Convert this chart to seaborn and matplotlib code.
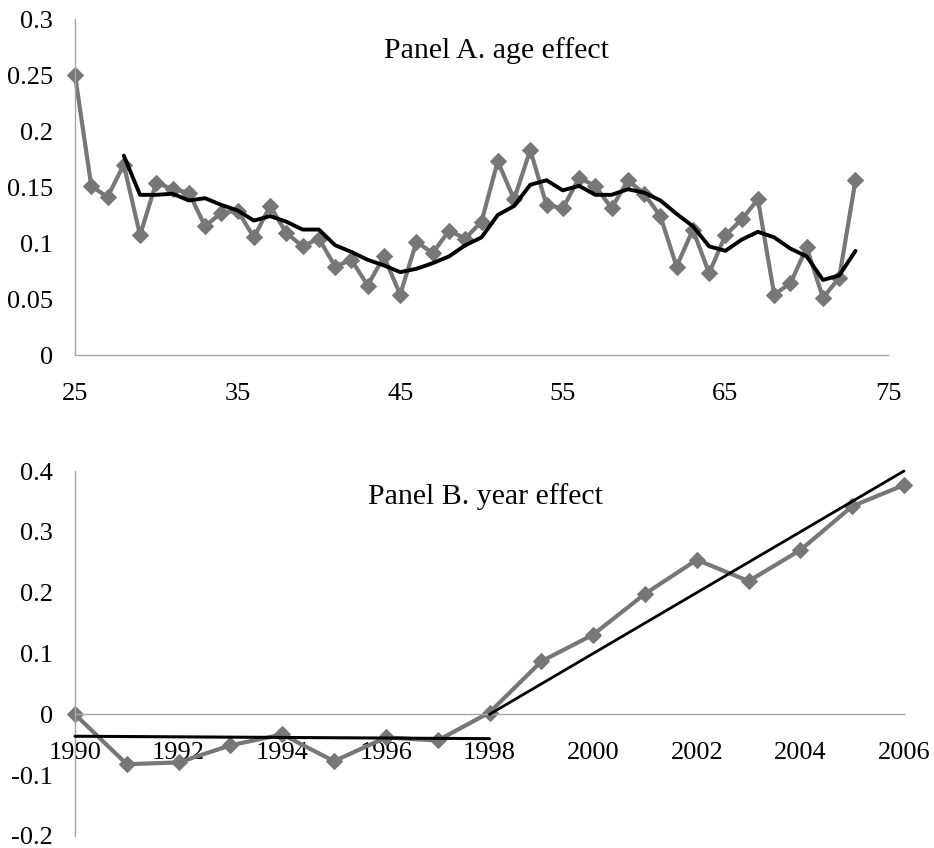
import numpy as np
import pandas as pd
import matplotlib
matplotlib.use("Agg")
import matplotlib.pyplot as plt
import seaborn as sns

# ---------------- data ----------------
ages = list(range(25, 74))
age_effect = [0.250, 0.151, 0.141, 0.170, 0.107, 0.154, 0.148, 0.145, 0.115, 0.127,
              0.129, 0.105, 0.133, 0.109, 0.097, 0.104, 0.079, 0.085, 0.062, 0.088,
              0.054, 0.101, 0.091, 0.111, 0.104, 0.119, 0.173, 0.139, 0.183, 0.134,
              0.131, 0.158, 0.151, 0.131, 0.156, 0.144, 0.124, 0.079, 0.112, 0.073,
              0.107, 0.121, 0.139, 0.054, 0.064, 0.096, 0.051, 0.069, 0.156]
ages_ma = list(range(28, 74))
age_ma = [0.178, 0.143, 0.143, 0.144, 0.138, 0.140, 0.134, 0.129, 0.120, 0.124,
          0.119, 0.112, 0.112, 0.098, 0.092, 0.085, 0.080, 0.074, 0.077, 0.082,
          0.088, 0.098, 0.105, 0.125, 0.133, 0.152, 0.156, 0.147, 0.151, 0.143,
          0.143, 0.148, 0.145, 0.138, 0.126, 0.115, 0.097, 0.093, 0.103, 0.110,
          0.105, 0.095, 0.088, 0.067, 0.071, 0.093]

years = list(range(1990, 2007))
year_effect = [0.000, -0.082, -0.079, -0.051, -0.033, -0.077, -0.038, -0.043, 0.003,
               0.087, 0.131, 0.198, 0.254, 0.219, 0.270, 0.342, 0.377]
trend1_x = [1990, 1998]
trend1_y = [-0.036, -0.040]
trend2_x = [1998, 2006]
trend2_y = [0.000, 0.400]

a_xticks = [25, 35, 45, 55, 65, 75]
a_yticks = [0, 0.05, 0.1, 0.15, 0.2, 0.25, 0.3]
a_ylabels = ["0", "0.05", "0.1", "0.15", "0.2", "0.25", "0.3"]
b_xticks = list(range(1990, 2007, 2))
b_yticks = [-0.2, -0.1, 0, 0.1, 0.2, 0.3, 0.4]
b_ylabels = ["-0.2", "-0.1", "0", "0.1", "0.2", "0.3", "0.4"]
title_a = "Panel A. age effect"
title_b = "Panel B. year effect"

# ---------------- style ----------------
sns.set_theme(style="white")
plt.rcParams["font.family"] = ["Liberation Serif", "DejaVu Serif"]
plt.rcParams["text.color"] = "black"
plt.rcParams["xtick.color"] = "black"
plt.rcParams["ytick.color"] = "black"

GREY = "#777777"
SPINE = "#a6a6a6"
TICKFS = 19
TITLEFS = 21.5

fig = plt.figure(figsize=(9.34, 8.48), dpi=100)
W, H = 934, 848
axA = fig.add_axes([75 / W, 1 - 355 / H, (888 - 75) / W, (355 - 19) / H])
axB = fig.add_axes([75 / W, 1 - 836 / H, (904 - 75) / W, (836 - 471) / H])

dfA = pd.DataFrame({"age": ages, "effect": age_effect})
dfA2 = pd.DataFrame({"age": ages_ma, "effect": age_ma})
dfB = pd.DataFrame({"year": years, "effect": year_effect})

# Panel A
sns.lineplot(data=dfA, x="age", y="effect", ax=axA, color=GREY, linewidth=3.0,
             marker="D", markersize=8.0, markeredgecolor=GREY, markerfacecolor=GREY,
             clip_on=False, zorder=2)
sns.lineplot(data=dfA2, x="age", y="effect", ax=axA, color="black", linewidth=2.8,
             clip_on=False, zorder=3)

# Panel B
sns.lineplot(data=dfB, x="year", y="effect", ax=axB, color=GREY, linewidth=3.0,
             marker="D", markersize=8.0, markeredgecolor=GREY, markerfacecolor=GREY,
             clip_on=False, zorder=2)
sns.lineplot(x=trend1_x, y=trend1_y, ax=axB, color="black", linewidth=2.2,
             clip_on=False, zorder=3)
sns.lineplot(x=trend2_x, y=trend2_y, ax=axB, color="black", linewidth=2.0,
             clip_on=False, zorder=3)

for ax in (axA, axB):
    ax.set_xlabel("")
    ax.set_ylabel("")
    ax.spines["top"].set_visible(False)
    ax.spines["right"].set_visible(False)
    for s in ("left", "bottom"):
        ax.spines[s].set_color(SPINE)
        ax.spines[s].set_linewidth(1.0)
    ax.tick_params(axis="both", which="both", direction="out", colors=SPINE,
                   labelcolor="black", labelsize=TICKFS, width=1.0)
    ax.tick_params(axis="x", length=6, pad=14)
    ax.tick_params(axis="y", length=5, pad=11)
    ax.set_facecolor("white")
    ax.grid(False)

axA.set_xlim(25, 75)
axA.set_ylim(0, 0.3)
axA.set_xticks(a_xticks)
axA.set_xticklabels([str(t) for t in a_xticks])
axA.set_yticks(a_yticks)
axA.set_yticklabels(a_ylabels)
axA.text(0.518, 0.905, title_a, transform=axA.transAxes, ha="center", va="center",
         fontsize=TITLEFS)

axB.set_xlim(1990, 2006)
axB.set_ylim(-0.2, 0.4)
axB.spines["bottom"].set_position(("data", 0))
axB.set_xticks(b_xticks)
axB.set_xticklabels([str(t) for t in b_xticks])
axB.set_yticks(b_yticks)
axB.set_yticklabels(b_ylabels)
axB.text(0.495, 0.93, title_b, transform=axB.transAxes, ha="center", va="center",
         fontsize=TITLEFS)

fig.savefig("out.png", dpi=100, facecolor="white")
